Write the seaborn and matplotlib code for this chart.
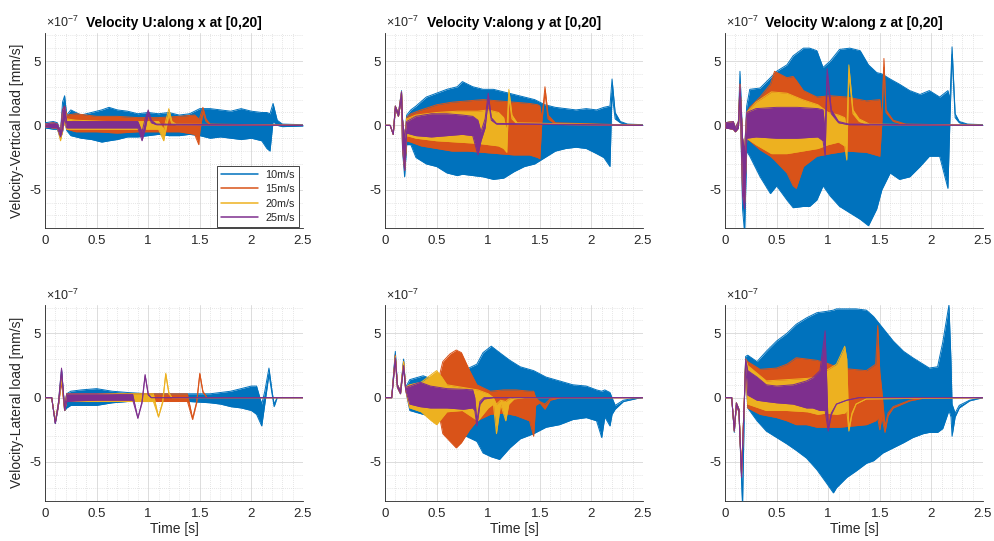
import matplotlib
matplotlib.use("Agg")
import matplotlib.pyplot as plt
from matplotlib.lines import Line2D
from matplotlib.ticker import MultipleLocator
import seaborn as sns

# ---------------------------------------------------------------------------
# Labels and styling inputs
# ---------------------------------------------------------------------------
speeds = ["10m/s", "15m/s", "20m/s", "25m/s"]
palette = ["#0072BD", "#D95319", "#EDB120", "#7E2F8E"]
titles = ["Velocity U:along x at [0,20]",
          "Velocity V:along y at [0,20]",
          "Velocity W:along z at [0,20]"]
row_labels = ["Velocity-Vertical load [mm/s]", "Velocity-Lateral load [mm/s]"]
x_ticks = [0, 0.5, 1, 1.5, 2, 2.5]
x_tick_labels = ["0", "0.5", "1", "1.5", "2", "2.5"]
y_ticks = [-5, 0, 5]
y_tick_labels = ["-5", "0", "5"]

# ---------------------------------------------------------------------------
# Response envelopes (units of 1e-7 mm/s): time [s], lower and upper bound
# Prefix: v = vertical load, l = lateral load; u/v/w = velocity component
# ---------------------------------------------------------------------------
# vertical load, U
vu10_t = [0, 0.08, 0.12, 0.15, 0.17, 0.19, 0.21, 0.25, 0.35, 0.45, 0.55, 0.62, 0.7, 0.8, 0.9, 1.0, 1.1,
          1.2, 1.3, 1.4, 1.5, 1.6, 1.7, 1.8, 1.9, 2.0, 2.1, 2.15, 2.18, 2.21, 2.25, 2.3, 2.5]
vu10_hi = [0.2, 0.3, 0.2, -0.5, 1.8, 2.3, 0.8, 1.2, 0.8, 1.0, 1.2, 1.4, 1.2, 1.1, 0.9, 1.0, 0.9,
           1.0, 0.8, 0.9, 1.3, 1.3, 1.2, 1.1, 1.3, 1.1, 1.0, 1.0, 0.9, 1.7, 0.4, 0.1, 0.05]
vu10_lo = [-0.2, -0.3, -0.3, -1.0, -0.5, 0.5, -0.4, -0.8, -1.0, -1.1, -1.3, -1.2, -1.1, -0.9, -0.9, -0.8, -0.7,
           -0.8, -0.8, -0.7, -0.8, -1.0, -0.9, -1.0, -1.1, -1.0, -1.2, -1.8, -2.0, 0.3, 0.0, -0.1, -0.05]
vu15_t = [0, 0.08, 0.12, 0.15, 0.17, 0.19, 0.21, 0.3, 0.5, 0.7, 0.9, 1.1, 1.3, 1.45, 1.49, 1.5, 1.53, 1.56, 1.6, 2.5]
vu15_hi = [0.1, 0.2, 0.1, -0.5, 1.2, 1.5, 0.8, 0.9, 0.7, 0.7, 0.6, 0.6, 0.7, 0.8, 0.5, 0.6, 1.4, 0.5, 0.1, 0.0]
vu15_lo = [-0.1, -0.2, -0.2, -1.0, -0.4, 0.4, -0.3, -0.5, -0.5, -0.6, -0.5, -0.5, -0.5, -0.7, -1.5, -0.5, 1.0, 0.3, 0.05, 0.0]
vu20_t = [0, 0.08, 0.12, 0.15, 0.17, 0.19, 0.21, 0.3, 0.6, 0.9, 1.1, 1.15, 1.2, 1.23, 1.27, 2.5]
vu20_hi = [0.1, 0.2, 0.1, -0.6, 1.0, 1.4, 0.5, 0.4, 0.3, 0.3, 0.3, -0.3, 1.3, 0.3, 0.1, 0]
vu20_lo = [-0.1, -0.2, -0.2, -1.2, -0.4, 0.4, -0.3, -0.3, -0.3, -0.3, -0.3, -1.2, 0.8, 0.1, 0.05, 0]
vu25_t = [0, 0.08, 0.12, 0.15, 0.17, 0.19, 0.21, 0.3, 0.5, 0.7, 0.9, 0.94, 0.97, 1.0, 1.03, 1.08, 2.5]
vu25_hi = [0.1, 0.2, 0.1, -0.5, 1.2, 1.5, 0.3, 0.3, 0.3, 0.3, 0.3, -0.5, 0.5, 1.2, 0.4, 0.1, 0]
vu25_lo = [-0.1, -0.2, -0.2, -0.9, -0.3, 0.6, -0.2, -0.2, -0.2, -0.2, -0.2, -1.2, -0.3, 0.9, 0.2, 0.05, 0]

# vertical load, V
vv10_t = [0, 0.05, 0.08, 0.1, 0.13, 0.16, 0.17, 0.19, 0.21, 0.25, 0.3, 0.4, 0.5, 0.6, 0.7, 0.75, 0.85, 0.95,
          1.05, 1.15, 1.25, 1.35, 1.45, 1.55, 1.65, 1.75, 1.85, 1.95, 2.05, 2.12, 2.18, 2.2, 2.23, 2.28, 2.35, 2.5]
vv10_hi = [0, 0, -0.7, 1.5, 0.9, 2.7, 0.5, -1.0, 0.8, 1.2, 1.5, 2.2, 2.5, 2.8, 3.0, 3.4, 3.0, 2.8,
           2.8, 2.6, 2.4, 2.2, 2.0, 1.6, 1.4, 1.3, 1.2, 1.3, 1.2, 1.4, 1.5, 3.6, 1.0, 0.3, 0.1, 0.05]
vv10_lo = [0, 0, -0.7, 1.3, 0.7, 2.3, -2.0, -4.0, -1.5, -1.5, -2.5, -3.0, -3.2, -3.7, -3.9, -3.8, -3.9, -4.0,
           -4.2, -4.1, -3.6, -3.2, -3.0, -2.5, -2.0, -1.8, -1.7, -1.8, -2.2, -2.5, -3.2, 2.5, 0.5, 0.2, 0.05, 0.0]
vv15_t = [0, 0.05, 0.08, 0.1, 0.13, 0.16, 0.17, 0.19, 0.21, 0.25, 0.35, 0.5, 0.65, 0.8, 0.95, 1.1, 1.25,
          1.4, 1.48, 1.5, 1.52, 1.55, 1.58, 1.65, 2.5]
vv15_hi = [0, 0, -0.7, 1.5, 0.9, 2.6, 0.4, -1.0, 0.6, 0.9, 1.2, 1.6, 1.8, 1.9, 2.0, 1.9, 1.8,
           1.7, 1.6, 1.5, 0.5, 3.0, 0.8, 0.2, 0]
vv15_lo = [0, 0, -0.7, 1.3, 0.7, 2.2, -1.8, -3.5, -1.2, -1.3, -1.6, -1.8, -2.0, -2.0, -2.1, -2.2, -2.3,
           -2.3, -2.5, -2.6, 0.3, 2.5, 0.5, 0.1, 0]
vv20_t = [0, 0.05, 0.08, 0.1, 0.13, 0.16, 0.17, 0.19, 0.21, 0.3, 0.5, 0.7, 0.9, 1.0, 1.1, 1.15, 1.18,
          1.2, 1.23, 1.28, 2.5]
vv20_hi = [0, 0, -0.7, 1.5, 0.9, 2.6, 0.4, -1.0, 0.5, 0.8, 1.0, 1.1, 1.1, 1.2, 1.0, 0.6, -0.5, 2.8, 0.8, 0.2, 0]
vv20_lo = [0, 0, -0.7, 1.3, 0.7, 2.2, -1.8, -3.3, -0.8, -1.0, -1.2, -1.3, -1.4, -1.5, -1.6, -1.8, -2.1, 2.2, 0.5, 0.1, 0]
vv25_t = [0, 0.05, 0.08, 0.1, 0.13, 0.16, 0.17, 0.19, 0.21, 0.3, 0.45, 0.6, 0.75, 0.85, 0.9, 0.93, 0.97,
          1.0, 1.03, 1.08, 2.5]
vv25_hi = [0, 0, -0.7, 1.5, 0.9, 2.6, 0.4, -1.0, 0.3, 0.7, 0.9, 0.9, 0.8, 0.7, 0.4, -0.5, 0.5, 2.5, 0.6, 0.15, 0]
vv25_lo = [0, 0, -0.7, 1.3, 0.7, 2.2, -1.8, -3.5, -0.6, -0.8, -0.9, -0.8, -0.7, -0.8, -2.3, -1.2, -0.2, 2.0, 0.4, 0.1, 0]

# vertical load, W
vw10_t = [0, 0.08, 0.1, 0.13, 0.145, 0.17, 0.19, 0.21, 0.24, 0.34, 0.44, 0.5, 0.6, 0.66, 0.76, 0.82, 0.89, 0.95,
          1.02, 1.11, 1.21, 1.31, 1.39, 1.47, 1.52, 1.6, 1.69, 1.79, 1.89, 1.98, 2.08, 2.16, 2.18, 2.2, 2.23,
          2.27, 2.35, 2.5]
vw10_hi = [0.2, 0.3, -0.2, 0.3, 4.2, -1.0, -2.0, 1.5, 2.8, 2.9, 3.7, 4.2, 4.7, 5.4, 6.0, 6.0, 5.8, 4.5,
           5.0, 5.9, 6.0, 5.8, 4.7, 4.1, 4.0, 3.6, 3.2, 2.7, 2.4, 2.7, 2.2, 2.7, 2.0, 6.1, 0.9,
           0.3, 0.1, 0.05]
vw10_lo = [-0.2, -0.3, -0.5, -0.2, 3.0, -6.5, -8.4, -2.0, -2.4, -4.0, -5.3, -4.7, -5.8, -6.4, -6.3, -6.3, -5.8, -4.7,
           -5.5, -6.3, -6.8, -7.3, -7.8, -6.5, -5.0, -3.7, -4.2, -4.0, -3.2, -2.4, -2.4, -4.9, 0.5, 5.5, 0.6,
           0.2, 0.05, 0.0]
vw15_t = [0, 0.08, 0.1, 0.13, 0.145, 0.17, 0.19, 0.21, 0.24, 0.34, 0.44, 0.48, 0.6, 0.66, 0.69, 0.76, 0.89,
          1.02, 1.18, 1.37, 1.5, 1.52, 1.54, 1.56, 1.63, 1.75, 2.5]
vw15_hi = [0.2, 0.3, -0.2, 0.3, 3.2, -1.0, -2.0, 1.0, 1.4, 2.2, 3.2, 4.2, 3.7, 3.8, 3.5, 2.7, 2.2,
           2.3, 2.2, 1.9, 2.0, 0.5, 5.2, 1.2, 0.4, 0.1, 0]
vw15_lo = [-0.2, -0.3, -0.5, -0.2, 2.5, -5.0, -6.0, -1.0, -1.2, -1.9, -2.4, -2.7, -3.7, -4.7, -4.9, -3.2, -2.4,
           -2.2, -2.0, -2.1, -2.4, 0.2, 4.5, 1.0, 0.3, 0.05, 0]
vw20_t = [0, 0.08, 0.1, 0.13, 0.145, 0.17, 0.19, 0.21, 0.3, 0.45, 0.6, 0.75, 0.9, 1.0, 1.1, 1.16, 1.18,
          1.2, 1.24, 1.3, 1.4, 2.5]
vw20_hi = [0.2, 0.3, -0.2, 0.3, 3.2, -1.0, -2.0, 1.0, 1.8, 2.6, 2.5, 2.0, 1.6, 1.0, 0.8, 0.6, -0.5,
           4.7, 1.2, 0.5, 0.1, 0]
vw20_lo = [-0.2, -0.3, -0.5, -0.2, 2.5, -5.0, -6.0, -1.0, -1.5, -2.2, -2.2, -2.0, -1.8, -1.5, -1.3, -1.6, -2.7,
           4.0, 0.9, 0.3, 0.05, 0]
vw25_t = [0, 0.08, 0.1, 0.13, 0.145, 0.17, 0.19, 0.21, 0.3, 0.5, 0.7, 0.9, 0.95, 0.97, 0.99, 1.03, 1.1, 1.2, 2.5]
vw25_hi = [0.2, 0.3, -0.2, 0.3, 3.2, -1.0, -2.0, 1.0, 1.3, 1.4, 1.4, 1.3, 1.2, -0.5, 4.4, 1.2, 0.3, 0.1, 0]
vw25_lo = [-0.2, -0.3, -0.5, -0.2, 2.5, -5.5, -6.5, -1.0, -0.9, -1.0, -1.0, -0.9, -1.2, -2.4, 3.8, 0.9, 0.2, 0.05, 0]

# lateral load, U
lu10_t = [0, 0.065, 0.1, 0.13, 0.16, 0.19, 0.21, 0.25, 0.35, 0.5, 0.65, 0.8, 1.0, 1.2, 1.4, 1.6, 1.7,
          1.8, 1.9, 2.0, 2.05, 2.1, 2.13, 2.17, 2.2, 2.22, 2.25, 2.5]
lu10_hi = [0, 0, -2.0, -0.4, 2.2, -0.8, 0.3, 0.5, 0.6, 0.7, 0.5, 0.4, 0.3, 0.3, 0.3, 0.3, 0.4,
           0.5, 0.7, 0.9, 0.9, -0.5, 0.5, 2.3, 0.5, -0.5, 0.0, 0]
lu10_lo = [0, 0, -2.0, -0.6, 1.8, -1.0, -0.8, -0.6, -0.6, -0.6, -0.4, -0.3, -0.3, -0.2, -0.3, -0.4, -0.5,
           -0.7, -0.8, -1.0, -1.3, -2.2, -0.5, 1.8, 0.3, -0.7, 0.0, 0]
lu15_t = [0, 0.065, 0.1, 0.13, 0.16, 0.19, 0.21, 0.3, 0.6, 0.9, 1.2, 1.38, 1.43, 1.47, 1.5, 1.53, 1.57, 2.5]
lu15_hi = [0, 0, -1.9, -0.4, 1.5, -0.8, 0.3, 0.3, 0.3, 0.3, 0.3, 0.3, -1.6, -0.3, 1.9, 0.5, 0, 0]
lu15_lo = [0, 0, -1.9, -0.6, 1.2, -1.0, -0.3, -0.3, -0.3, -0.3, -0.3, -0.3, -1.7, -0.4, 1.8, 0.4, 0, 0]
lu20_t = [0, 0.065, 0.1, 0.13, 0.16, 0.19, 0.21, 0.3, 0.6, 0.9, 1.05, 1.1, 1.14, 1.17, 1.2, 1.23, 2.5]
lu20_hi = [0, 0, -1.9, -0.4, 1.8, -0.8, 0.3, 0.3, 0.3, 0.3, 0.3, -1.5, -0.3, 1.9, 0.4, 0, 0]
lu20_lo = [0, 0, -1.9, -0.6, 1.6, -1.0, -0.3, -0.3, -0.3, -0.3, -0.3, -1.5, -0.4, 1.8, 0.3, 0, 0]
lu25_t = [0, 0.065, 0.1, 0.13, 0.16, 0.19, 0.21, 0.3, 0.5, 0.7, 0.85, 0.9, 0.94, 0.97, 1.0, 1.03, 2.5]
lu25_hi = [0, 0, -2.0, -0.4, 2.3, -0.8, 0.3, 0.3, 0.3, 0.25, 0.25, -1.6, -0.3, 1.8, 0.3, 0, 0]
lu25_lo = [0, 0, -2.0, -0.6, 2.0, -1.0, -0.3, -0.25, -0.2, -0.2, -0.2, -1.6, -0.4, 1.7, 0.2, 0, 0]

# lateral load, V
lv10_t = [0, 0.065, 0.1, 0.12, 0.15, 0.18, 0.2, 0.24, 0.37, 0.5, 0.6, 0.69, 0.76, 0.89, 0.95, 1.03, 1.11,
          1.21, 1.31, 1.44, 1.56, 1.69, 1.82, 1.95, 2.05, 2.1, 2.13, 2.18, 2.2, 2.23, 2.31, 2.45, 2.5]
lv10_hi = [0, 0, 3.6, 1.0, 0.5, 3.0, 0.8, 1.4, 1.7, 1.3, 1.8, 1.9, 2.1, 2.6, 3.5, 4.0, 3.5,
           2.9, 2.4, 2.1, 1.6, 1.3, 1.0, 0.9, 0.6, 0.5, 0.6, 0.4, 0.0, -0.6, -0.2, 0.0, 0]
lv10_lo = [0, 0, 3.4, 0.8, 0.3, 2.8, 0.6, -1.0, -1.3, -1.55, -2.1, -2.8, -2.9, -3.4, -4.3, -4.6, -4.8,
           -3.9, -3.2, -2.8, -2.3, -2.1, -1.7, -1.55, -1.8, -3.1, -1.5, -2.2, -1.3, -0.9, -0.3, -0.05, 0]
lv15_t = [0, 0.065, 0.1, 0.12, 0.15, 0.18, 0.2, 0.24, 0.44, 0.53, 0.56, 0.63, 0.69, 0.74, 0.82, 0.89,
          1.02, 1.15, 1.27, 1.4, 1.44, 1.46, 1.5, 1.55, 1.6, 1.7, 2.5]
lv15_hi = [0, 0, 3.3, 1.0, 0.5, 2.8, 0.8, 1.0, 1.2, 1.8, 2.8, 3.4, 3.7, 3.5, 2.1, 1.0,
           0.5, 0.6, 0.6, 0.5, 0.5, 0.0, -0.3, -0.5, -0.1, 0, 0]
lv15_lo = [0, 0, 3.1, 0.8, 0.3, 2.6, 0.6, -0.8, -1.0, -1.55, -2.8, -3.4, -3.9, -3.5, -2.5, -1.8,
           -1.3, -1.2, -1.4, -1.8, -3.0, -0.6, -0.4, -0.9, -0.2, 0, 0]
lv20_t = [0, 0.065, 0.1, 0.12, 0.15, 0.18, 0.2, 0.24, 0.35, 0.45, 0.5, 0.55, 0.6, 0.75, 0.9, 1.0,
          1.05, 1.08, 1.12, 1.17, 1.2, 1.25, 1.35, 2.5]
lv20_hi = [0, 0, 3.2, 1.0, 0.5, 2.8, 0.8, 1.0, 1.2, 1.8, 2.1, 1.6, 1.0, 0.8, 0.6, 0.3,
           0.0, -0.5, -0.2, -0.3, -0.1, 0, 0, 0]
lv20_lo = [0, 0, 3.0, 0.8, 0.3, 2.6, 0.6, -0.8, -1.1, -1.8, -2.1, -1.6, -1.1, -1.0, -1.8, -0.8,
           -0.5, -2.8, -0.5, -1.8, -0.5, -0.1, 0, 0]
lv25_t = [0, 0.065, 0.1, 0.12, 0.15, 0.18, 0.2, 0.24, 0.34, 0.44, 0.6, 0.76, 0.85, 0.87, 0.89, 0.92, 0.96, 1.05, 2.5]
lv25_hi = [0, 0, 3.1, 1.0, 0.5, 2.5, 0.8, 0.9, 1.2, 0.9, 0.7, 0.65, 0.6, 0.0, -1.8, -0.3, 0, 0, 0]
lv25_lo = [0, 0, 2.9, 0.8, 0.3, 2.3, 0.6, -0.5, -0.7, -0.8, -0.8, -0.9, -0.8, -1.0, -2.2, -0.5, -0.1, 0, 0]

# lateral load, W
lw10_t = [0, 0.065, 0.09, 0.11, 0.135, 0.17, 0.19, 0.2, 0.22, 0.31, 0.4, 0.5, 0.6, 0.69, 0.79, 0.89, 0.98,
          1.05, 1.08, 1.18, 1.27, 1.37, 1.44, 1.53, 1.63, 1.73, 1.82, 1.92, 1.98, 2.06, 2.11, 2.17, 2.19,
          2.2, 2.23, 2.27, 2.37, 2.5]
lw10_hi = [0, 0, -2.6, -0.4, -0.9, -8.0, 0.5, 3.2, 3.3, 2.8, 3.6, 4.4, 5.0, 5.7, 6.2, 6.6, 6.7,
           6.8, 6.9, 6.9, 6.9, 6.8, 6.3, 5.4, 4.4, 3.6, 3.1, 2.6, 2.3, 2.4, 4.3, 7.2, 2.8,
           -0.5, -1.2, -0.6, -0.2, 0]
lw10_lo = [0, 0, -2.7, -0.6, -1.1, -8.5, 0.3, 2.8, -0.8, -1.8, -2.6, -3.1, -3.6, -4.1, -4.7, -5.6, -6.6,
           -7.4, -7.0, -6.2, -5.7, -5.1, -4.9, -4.3, -3.9, -3.5, -3.1, -2.8, -2.7, -2.7, -2.4, -1.0, -1.5,
           -3.0, -1.5, -0.8, -0.25, 0]
lw15_t = [0, 0.065, 0.09, 0.11, 0.135, 0.16, 0.19, 0.2, 0.22, 0.34, 0.5, 0.6, 0.69, 0.79, 0.89, 0.98,
          1.11, 1.24, 1.37, 1.46, 1.48, 1.5, 1.52, 1.55, 1.58, 1.63, 1.79, 1.95, 2.5]
lw15_hi = [0, 0, -2.5, -0.4, -0.9, -5.8, 0.5, 3.0, 2.8, 2.2, 2.3, 2.6, 3.1, 3.0, 2.9, 2.7,
           2.3, 2.2, 2.1, 2.6, 5.6, 2.0, 0.5, -2.2, -1.2, -0.7, -0.2, 0, 0]
lw15_lo = [0, 0, -2.6, -0.6, -1.1, -6.0, 0.3, 2.6, -0.8, -1.3, -1.55, -1.8, -2.1, -2.1, -2.3, -2.3,
           -2.3, -2.2, -2.1, -1.8, -1.6, -2.5, -1.5, -2.7, -1.4, -0.8, -0.25, 0, 0]
lw20_t = [0, 0.065, 0.09, 0.11, 0.135, 0.16, 0.19, 0.2, 0.22, 0.4, 0.6, 0.8, 0.9, 0.98, 1.08, 1.16, 1.18,
          1.2, 1.23, 1.27, 1.37, 2.5]
lw20_hi = [0, 0, -2.5, -0.4, -0.9, -5.8, 0.5, 3.0, 2.5, 1.3, 1.4, 1.5, 1.6, 2.1, 2.6, 4.0, 3.0,
           -2.4, -1.2, -0.5, -0.1, 0]
lw20_lo = [0, 0, -2.6, -0.6, -1.1, -6.0, 0.3, 2.6, -0.5, -1.0, -1.0, -1.1, -1.3, -1.2, -1.3, -1.2, -1.0,
           -2.6, -1.3, -0.5, -0.1, 0]
lw25_t = [0, 0.065, 0.09, 0.11, 0.135, 0.16, 0.19, 0.2, 0.22, 0.31, 0.4, 0.5, 0.66, 0.79, 0.85, 0.92, 0.97,
          1.0, 1.03, 1.08, 1.18, 1.3, 2.5]
lw25_hi = [0, 0, -2.5, -0.4, -0.9, -6.0, 0.5, 3.0, 2.1, 1.6, 1.0, 0.9, 1.0, 1.3, 1.55, 2.1, 5.2,
           -2.4, -1.2, -0.5, -0.2, 0, 0]
lw25_lo = [0, 0, -2.6, -0.6, -1.1, -6.2, 0.3, 2.6, 0.2, -0.2, -0.3, -0.4, -0.5, -0.8, -0.8, -1.0, -1.0,
           -2.6, -1.3, -0.5, -0.2, 0, 0]

panels = [
    [
        [(vu10_t, vu10_lo, vu10_hi), (vu15_t, vu15_lo, vu15_hi), (vu20_t, vu20_lo, vu20_hi), (vu25_t, vu25_lo, vu25_hi)],
        [(vv10_t, vv10_lo, vv10_hi), (vv15_t, vv15_lo, vv15_hi), (vv20_t, vv20_lo, vv20_hi), (vv25_t, vv25_lo, vv25_hi)],
        [(vw10_t, vw10_lo, vw10_hi), (vw15_t, vw15_lo, vw15_hi), (vw20_t, vw20_lo, vw20_hi), (vw25_t, vw25_lo, vw25_hi)],
    ],
    [
        [(lu10_t, lu10_lo, lu10_hi), (lu15_t, lu15_lo, lu15_hi), (lu20_t, lu20_lo, lu20_hi), (lu25_t, lu25_lo, lu25_hi)],
        [(lv10_t, lv10_lo, lv10_hi), (lv15_t, lv15_lo, lv15_hi), (lv20_t, lv20_lo, lv20_hi), (lv25_t, lv25_lo, lv25_hi)],
        [(lw10_t, lw10_lo, lw10_hi), (lw15_t, lw15_lo, lw15_hi), (lw20_t, lw20_lo, lw20_hi), (lw25_t, lw25_lo, lw25_hi)],
    ],
]

# ---------------------------------------------------------------------------
# Style
# ---------------------------------------------------------------------------
sns.set_style("white")
plt.rcParams["font.family"] = ["Liberation Sans", "DejaVu Sans"]
plt.rcParams["axes.unicode_minus"] = False
plt.rcParams["mathtext.fontset"] = "custom"
plt.rcParams["mathtext.rm"] = "Liberation Sans"
plt.rcParams["mathtext.it"] = "Liberation Sans:italic"
plt.rcParams["mathtext.bf"] = "Liberation Sans:bold"

INK = "#262626"
W, H = 995, 541
fig = plt.figure(figsize=(W / 100, H / 100), dpi=100)
fig.patch.set_facecolor("white")

col_left = [45, 385, 725]
row_top = [32.7, 305.0]
ax_w, ax_h = 258, 195.6

for r in range(2):
    for c in range(3):
        ax = fig.add_axes([col_left[c] / W, 1 - (row_top[r] + ax_h) / H, ax_w / W, ax_h / H])
        for i, (t, lo, hi) in enumerate(panels[r][c]):
            z = 3 + i
            ax.fill_between(t, lo, hi, color=palette[i], lw=0, zorder=z)
            sns.lineplot(x=t, y=hi, ax=ax, color=palette[i], lw=0.7, zorder=z,
                         estimator=None, sort=False, legend=False)
            sns.lineplot(x=t, y=lo, ax=ax, color=palette[i], lw=0.7, zorder=z,
                         estimator=None, sort=False, legend=False)

        ax.set_xlim(0, 2.5)
        ax.set_ylim(-8, 7.2)
        ax.set_xticks(x_ticks)
        ax.set_xticklabels(x_tick_labels)
        ax.set_yticks(y_ticks)
        ax.set_yticklabels(y_tick_labels)
        ax.xaxis.set_minor_locator(MultipleLocator(0.1))
        ax.yaxis.set_minor_locator(MultipleLocator(1))
        ax.set_axisbelow(True)
        ax.grid(True, which="major", color="#dcdcdc", lw=0.7, linestyle="-")
        ax.grid(True, which="minor", color="#cfcfcf", lw=0.5, linestyle=(0, (1, 2)))
        for s in ["top", "right"]:
            ax.spines[s].set_visible(False)
        for s in ["left", "bottom"]:
            ax.spines[s].set_color(INK)
            ax.spines[s].set_linewidth(0.6)
        ax.tick_params(which="major", direction="in", length=3, width=0.6, color=INK,
                       labelsize=9.5, labelcolor=INK)
        ax.tick_params(axis="x", which="major", pad=5)
        ax.tick_params(axis="y", which="major", pad=3)
        ax.tick_params(which="minor", length=0)
        ax.set_xlabel("")
        ax.set_ylabel("")

        # exponent marker of the y axis
        ax.text(0.004, 1.012, r"$\times10^{-7}$", transform=ax.transAxes,
                ha="left", va="bottom", fontsize=9, color=INK)

        if r == 0:
            ax.set_title(titles[c], fontsize=10, fontweight="bold", color="black", pad=4)
        else:
            ax.set_xlabel("Time [s]", fontsize=10, color=INK, labelpad=2)
        if c == 0:
            ax.set_ylabel(row_labels[r], fontsize=10, color=INK)
            ax.yaxis.set_label_coords(-0.08, 0.5)

        if r == 0 and c == 0:
            handles = [Line2D([], [], color=palette[i], lw=1.1, label=speeds[i]) for i in range(4)]
            leg = ax.legend(handles=handles, loc="lower right", bbox_to_anchor=(0.99, 0.0),
                            borderaxespad=0.1, fontsize=7.8, handlelength=3.4, handletextpad=0.7,
                            labelspacing=0.4, borderpad=0.4, frameon=True, fancybox=False,
                            edgecolor=INK, framealpha=1)
            leg.get_frame().set_linewidth(0.6)
            leg.set_zorder(20)
            for txt in leg.get_texts():
                txt.set_color(INK)

fig.savefig("out.png", dpi=100, facecolor="white")
